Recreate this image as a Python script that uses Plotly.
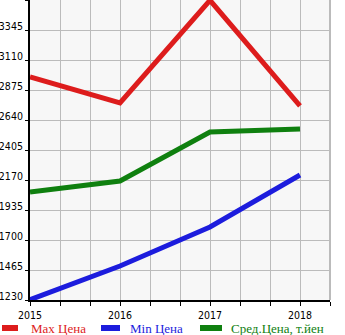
import plotly.graph_objects as go

years = [2015, 2016, 2017, 2018]
max_price = [2977, 2773, 3578, 2750]
min_price = [1232, 1496, 1802, 2209]
avg_price = [2076, 2162, 2546, 2569]
names = ["Max Цена", "Min Цена", "Сред.Цена, т.йен"]
colors = ["#dd1c1c", "#1c1cdd", "#0f800f"]
y_ticks = [1230, 1465, 1700, 1935, 2170, 2405, 2640, 2875, 3110, 3345, 3580]
y_labels = ["1230", "1465", "1700", "1935", "2170", "2405", "2640", "2875", "3110", "3345", ""]

fig = go.Figure()
for vals, name, col in zip([max_price, min_price, avg_price], names, colors):
    fig.add_trace(go.Scatter(
        x=years, y=vals, mode="lines",
        line=dict(color=col, width=5),
        name=name, showlegend=False,
    ))

W, L, R, T, B = 345, 30, 15, 0, 35
H = 335
pw = W - L - R
ph = H - T - B

def px(x):
    return (x - L) / pw

def py(y):
    return (H - B - y) / ph

# custom legend (symbol segments + coloured text)
legend_y = 328
legend_items = [(0, 20, 29), (99, 122, 128), (198, 224, 229)]
for (x0, x1, tx), name, col in zip(legend_items, names, colors):
    fig.add_shape(type="line", xref="paper", yref="paper",
                  x0=px(x0 + 2), x1=px(x1 - 2), y0=py(legend_y), y1=py(legend_y),
                  line=dict(color=col, width=6))
    fig.add_annotation(xref="paper", yref="paper", x=px(tx), y=py(legend_y),
                       xanchor="left", yanchor="middle", showarrow=False,
                       text=name, font=dict(family="Liberation Serif", size=13, color=col))

tick_font = dict(family="DejaVu Sans Condensed", size=10.5, color="black")
fig.update_layout(
    width=W, height=H,
    margin=dict(l=L, r=R, t=T, b=B, autoexpand=False),
    paper_bgcolor="white",
    plot_bgcolor="#f7f7f7",
    font=tick_font,
    showlegend=False,
    xaxis=dict(
        range=[2015, 2018 + 1/3],
        tickmode="array", tickvals=years, ticktext=[str(y) for y in years],
        tickfont=tick_font,
        showgrid=True, gridcolor="#bbbbbb", gridwidth=1,
        ticks="outside", ticklen=4, tickcolor="black",
        showline=True, linecolor="black", linewidth=2,
        minor=dict(dtick=1/3, tick0=2015, showgrid=True, gridcolor="#bbbbbb",
                   ticks="outside", ticklen=4, tickcolor="black"),
        zeroline=False, fixedrange=True,
    ),
    yaxis=dict(
        range=[1230, 3580],
        tickmode="array", tickvals=y_ticks, ticktext=y_labels,
        tickfont=tick_font, ticklabelshift=-4,
        showgrid=True, gridcolor="#bbbbbb", gridwidth=1,
        ticks="outside", ticklen=3, tickcolor="black",
        showline=True, linecolor="black", linewidth=2,
        zeroline=False, fixedrange=True,
    ),
)
fig.add_shape(type="line", xref="paper", yref="paper", x0=1, x1=1, y0=0, y1=1,
              line=dict(color="#bbbbbb", width=2), layer="below")

fig.write_html("out.html")
